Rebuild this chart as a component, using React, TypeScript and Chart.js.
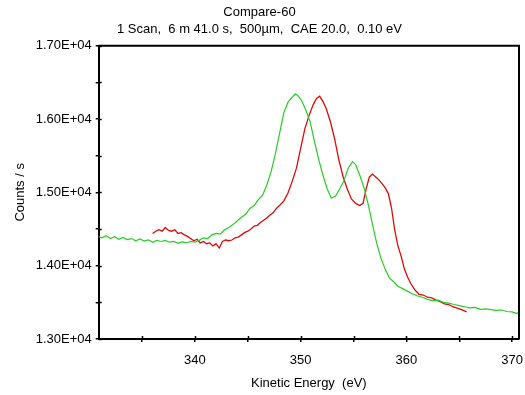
import React, { useEffect, useRef } from "react";
import { Chart, registerables } from "chart.js";

Chart.register(...registerables);

const titleText = "Compare-60";
const subtitleText = "1 Scan,  6 m 41.0 s,  500µm,  CAE 20.0,  0.10 eV";
const xTitleText = "Kinetic Energy  (eV)";
const yTitleText = "Counts / s";

const xMin = 330.9;
const xMax = 370.65;
const yMin = 13000;
const yMax = 17000;
const xTickValues = [335, 340, 345, 350, 355, 360, 365, 370];
const yTickValues = [13000, 13500, 14000, 14500, 15000, 15500, 16000, 16500, 17000];

const greenX = [
  330.8, 331.2, 331.6, 332.0, 332.4, 332.8, 333.2, 333.6, 334.0, 334.4, 334.8, 335.2, 335.6, 336.0,
  336.4, 336.8, 337.2, 337.6, 338.0, 338.4, 338.8, 339.2, 339.6, 340.0, 340.4, 340.8, 341.2, 341.6,
  342.0, 342.4, 342.8, 343.2, 343.6, 344.0, 344.4, 344.8, 345.2, 345.6, 346.0, 346.4, 346.8, 347.2,
  347.6, 348.0, 348.4, 348.8, 349.2, 349.5, 349.8, 350.1, 350.5, 350.9, 351.3, 351.7, 352.1, 352.5,
  352.9, 353.3, 353.7, 354.1, 354.5, 354.9, 355.2, 355.6, 356.0, 356.4, 356.8, 357.2, 357.6, 358.0,
  358.4, 358.8, 359.2, 359.6, 360.0, 360.5, 361.0, 361.5, 362.0, 362.5, 363.0, 363.5, 364.0, 364.5,
  365.0, 365.5, 366.0, 366.5, 367.0, 367.5, 368.0, 368.5, 369.0, 369.5, 370.0, 370.4, 370.7,
];
const greenY = [
  14400, 14380, 14410, 14370, 14395, 14360, 14385, 14355, 14370, 14340, 14365, 14335, 14350, 14320,
  14345, 14330, 14345, 14320, 14330, 14305, 14325, 14310, 14330, 14320, 14345, 14380, 14370, 14420,
  14440, 14430, 14490, 14520, 14560, 14610, 14660, 14700, 14780, 14820, 14900, 14960, 15100, 15280,
  15520, 15800, 16080, 16230, 16300, 16345, 16310, 16250, 16120, 15960, 15700, 15450, 15240, 15050,
  14920, 14950, 15050, 15160, 15330, 15420, 15380, 15230, 15060, 14830, 14560, 14300, 14100, 13950,
  13830, 13780, 13720, 13690, 13660, 13620, 13590, 13570, 13540, 13520, 13530, 13500, 13490, 13470,
  13455, 13440, 13425, 13430, 13405, 13410, 13400, 13390, 13395, 13375, 13370, 13350, 13360,
];

const redX = [
  336.0, 336.3, 336.6, 336.9, 337.2, 337.5, 337.8, 338.1, 338.4, 338.7, 339.0, 339.3, 339.6, 339.9,
  340.2, 340.5, 340.8, 341.1, 341.4, 341.7, 342.0, 342.3, 342.6, 342.9, 343.2, 343.5, 343.8, 344.1,
  344.4, 344.7, 345.0, 345.3, 345.6, 345.9, 346.2, 346.5, 346.8, 347.1, 347.4, 347.7, 348.0, 348.4,
  348.8, 349.2, 349.6, 350.0, 350.4, 350.8, 351.2, 351.5, 351.8, 352.1, 352.4, 352.8, 353.2, 353.6,
  354.0, 354.4, 354.8, 355.2, 355.6, 355.9, 356.2, 356.5, 356.8, 357.1, 357.4, 357.7, 358.0, 358.3,
  358.6, 358.9, 359.2, 359.5, 359.8, 360.1, 360.4, 360.8, 361.2, 361.6, 362.0, 362.4, 362.8, 363.2,
  363.6, 364.0, 364.4, 364.8, 365.2, 365.7,
];
const redY = [
  14440, 14470, 14490, 14470, 14520, 14480, 14470, 14490, 14440, 14450, 14420, 14400, 14370, 14340,
  14360, 14310, 14330, 14300, 14310, 14270, 14300, 14240, 14330, 14350, 14340, 14350, 14380, 14390,
  14420, 14450, 14470, 14500, 14540, 14550, 14590, 14620, 14650, 14690, 14720, 14780, 14820, 14880,
  14990, 15150, 15330, 15600, 15870, 16050, 16200, 16280, 16310, 16240, 16150, 15970, 15740, 15450,
  15220, 15050, 14910, 14850, 14820, 14850, 15050, 15210, 15250, 15210, 15170, 15120, 15060, 14980,
  14780, 14480, 14270, 14130, 13960, 13850, 13760, 13670, 13610, 13600, 13570, 13560, 13530, 13510,
  13480, 13470, 13440, 13420, 13400, 13370,
];

const FONT = { family: "'Liberation Sans', Arial, sans-serif", size: 13, weight: "normal" as const };

const framePlugin = {
  id: "frame",
  afterDraw(chart: any) {
    const { ctx, chartArea } = chart;
    const { left, right, top, bottom } = chartArea;
    const xs = chart.scales.x;
    const ys = chart.scales.y;
    ctx.save();
    ctx.strokeStyle = "#000";
    ctx.lineWidth = 2;
    ctx.beginPath();
    ctx.moveTo(left, top);
    ctx.lineTo(right, top);
    ctx.lineTo(right, bottom);
    ctx.stroke();
    ctx.lineWidth = 1.5;
    ctx.beginPath();
    xs.ticks.forEach((t: any) => {
      const px = Math.round(xs.getPixelForValue(t.value)) + 0.5;
      ctx.moveTo(px, bottom);
      ctx.lineTo(px, bottom - 3);
    });
    ys.ticks.forEach((t: any) => {
      const py = Math.round(ys.getPixelForValue(t.value)) + 0.5;
      ctx.moveTo(left, py);
      ctx.lineTo(left + 3, py);
    });
    ctx.stroke();
    ctx.restore();
  },
};

export default function App() {
  const ref = useRef<HTMLCanvasElement | null>(null);
  useEffect(() => {
    if (!ref.current) return;
    const chart = new Chart(ref.current, {
      type: "line",
      data: {
        datasets: [
          {
            label: "green",
            data: greenX.map((x, i) => ({ x, y: greenY[i] })),
            borderColor: "rgb(40,205,40)",
            borderWidth: 1.2,
            pointRadius: 0,
            tension: 0,
            fill: false,
          },
          {
            label: "red",
            data: redX.map((x, i) => ({ x, y: redY[i] })),
            borderColor: "rgb(222,10,10)",
            borderWidth: 1.3,
            pointRadius: 0,
            tension: 0,
            fill: false,
          },
        ],
      },
      options: {
        responsive: false,
        animation: false,
        devicePixelRatio: 1,
        layout: { padding: { left: 0, right: 6, top: 0, bottom: 0 } },
        plugins: {
          legend: { display: false },
          tooltip: { enabled: false },
          title: {
            display: true,
            text: titleText,
            color: "#000",
            font: FONT,
            padding: { top: 5, bottom: 0 },
          },
          subtitle: {
            display: true,
            text: subtitleText,
            color: "#000",
            font: FONT,
            padding: { top: 1.2, bottom: 8.3 },
          },
        },
        scales: {
          x: {
            type: "linear",
            min: xMin,
            max: xMax,
            afterBuildTicks: (s: any) => {
              s.ticks = xTickValues.map((v) => ({ value: v }));
            },
            afterFit: (s: any) => {
              s.height = 56;
              s.paddingLeft = 0;
              s.paddingRight = 0;
            },
            ticks: {
              autoSkip: false,
              maxRotation: 0,
              color: "#000",
              font: FONT,
              padding: 11,
              callback: (v: any) => (Number(v) % 10 === 0 ? String(v) : ""),
            },
            grid: { display: true, drawOnChartArea: false, drawTicks: true, tickLength: 3, color: "#000", lineWidth: 1.5 },
            border: { display: true, color: "#000", width: 2 },
            title: { display: true, text: xTitleText, color: "#000", font: FONT, padding: { top: 0, bottom: 3.5 } },
          },
          y: {
            type: "linear",
            min: yMin,
            max: yMax,
            afterBuildTicks: (s: any) => {
              s.ticks = yTickValues.map((v) => ({ value: v }));
            },
            afterFit: (s: any) => {
              s.width = 98.7;
              s.paddingTop = 0;
              s.paddingBottom = 0;
            },
            ticks: {
              autoSkip: false,
              color: "#000",
              font: FONT,
              padding: 4,
              callback: (v: any) => (Number(v) % 1000 === 0 ? (Number(v) / 10000).toFixed(2) + "E+04" : ""),
            },
            grid: { display: true, drawOnChartArea: false, drawTicks: true, tickLength: 3, color: "#000", lineWidth: 1.5 },
            border: { display: true, color: "#000", width: 2 },
            title: { display: true, text: yTitleText, color: "#000", font: FONT, padding: { top: 12.2, bottom: 0 } },
          },
        },
      },
      plugins: [framePlugin],
    } as any);
    return () => chart.destroy();
  }, []);
  return (
    <div style={{ position: "fixed", left: 0, top: 0, width: 525, height: 395, background: "#fff" }}>
      <canvas ref={ref} width={525} height={395} style={{ display: "block" }} />
    </div>
  );
}
